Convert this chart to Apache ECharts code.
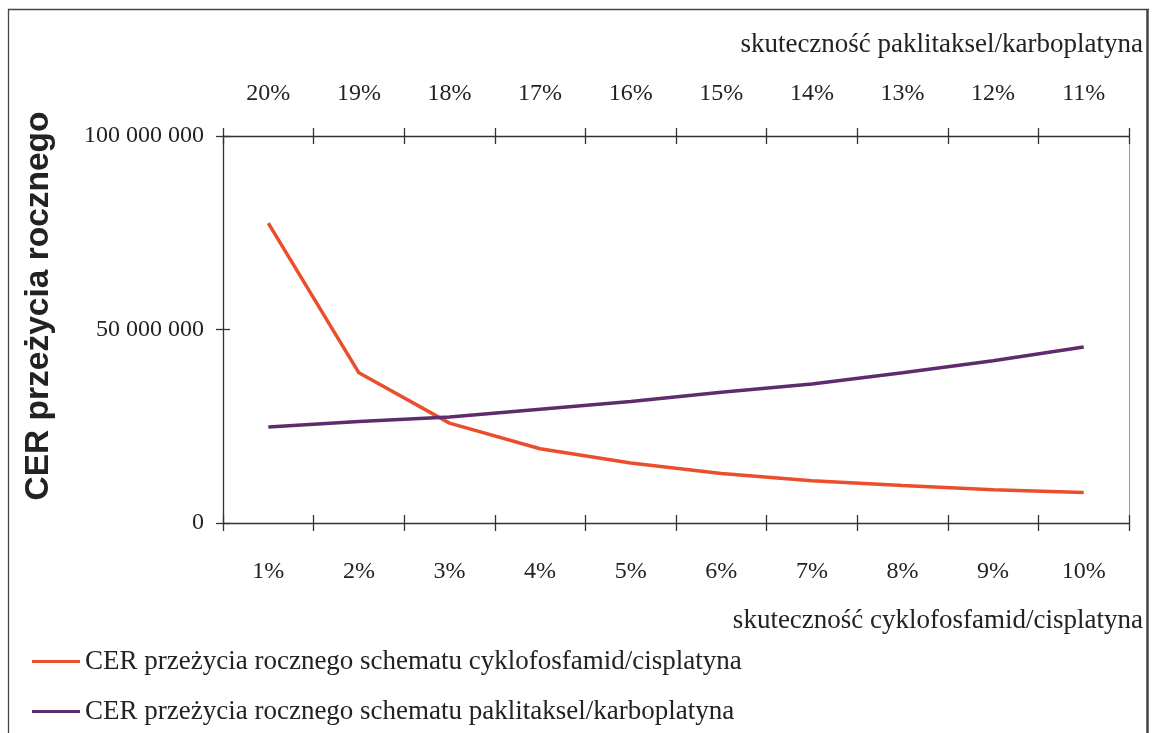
<!DOCTYPE html>
<html>
<head>
<meta charset="utf-8">
<script src="https://cdn.jsdelivr.net/npm/echarts@6/dist/echarts.min.js"></script>
<style>
html,body{margin:0;padding:0;background:#fff;}
#c{width:1158px;height:733px;}
</style>
</head>
<body>
<div id="c"></div>
<script>
const bottomLabels = ['1%','2%','3%','4%','5%','6%','7%','8%','9%','10%'];
const topLabels = ['20%','19%','18%','17%','16%','15%','14%','13%','12%','11%'];
const cyklofosfamid = [77500000, 38800000, 25800000, 19200000, 15500000, 12800000, 10900000, 9700000, 8600000, 7900000];
const paklitaksel = [24800000, 26200000, 27400000, 29400000, 31400000, 33800000, 35900000, 38800000, 41900000, 45500000];
const seriesNames = ['CER przeżycia rocznego schematu cyklofosfamid/cisplatyna','CER przeżycia rocznego schematu paklitaksel/karboplatyna'];
const yTitle = 'CER przeżycia rocznego';
const topTitle = 'skuteczność paklitaksel/karboplatyna';
const bottomTitle = 'skuteczność cyklofosfamid/cisplatyna';

const serif = 'Liberation Serif';
const axisColor = '#333';
const lineSt = {color: axisColor, width: 1.3};
const labelSt = {fontFamily: serif, fontSize: 24, color: '#222'};

function catAxis(data, pos, inside, margin) {
  return {
    type: 'category', data: data, position: pos, boundaryGap: true, offset: 0,
    axisLine: {show: !inside, onZero: false, lineStyle: lineSt},
    axisTick: {show: true, inside: inside, length: 8, interval: 0, alignWithLabel: false, lineStyle: lineSt},
    axisLabel: inside ? {show: false} : Object.assign({show: true, interval: 0, margin: margin}, labelSt),
    splitLine: {show: false}
  };
}
function valAxis(pos, inside, showLabel) {
  return {
    type: 'value', min: 0, max: 100000000, interval: 50000000, position: pos, offset: 0,
    axisLine: {show: !inside, onZero: false, lineStyle: lineSt},
    axisTick: {show: true, inside: inside, length: 7, lineStyle: lineSt},
    axisLabel: showLabel ? Object.assign({show: true, margin: 19, formatter: v => String(v).replace(/\B(?=(\d{3})+(?!\d))/g, ' ')}, labelSt) : {show: false},
    splitLine: {show: false}
  };
}

const chart = echarts.init(document.getElementById('c'));
chart.setOption({
  animation: false,
  backgroundColor: '#fff',
  grid: {left: 223, right: 29, top: 136, bottom: 210, containLabel: false},
  xAxis: [
    catAxis(bottomLabels, 'bottom', false, 37),
    catAxis(topLabels, 'top', false, 30),
    catAxis(bottomLabels, 'bottom', true, 0),
    catAxis(topLabels, 'top', true, 0)
  ],
  yAxis: [
    valAxis('left', false, true),
    valAxis('left', true, false),
    {type: 'value', min: 0, max: 100000000, interval: 50000000, position: 'right', offset: 0,
     axisLine: {show: true, onZero: false, lineStyle: {color: '#999', width: 1}}, axisTick: {show: false},
     axisLabel: {show: false}, splitLine: {show: false}}
  ],
  legend: {
    orient: 'vertical', left: 32, top: 648, itemGap: 23, padding: 0,
    itemWidth: 48, itemHeight: 3, icon: 'rect',
    textStyle: {fontFamily: serif, fontSize: 27, color: '#222'},
    data: seriesNames
  },
  series: [
    {name: seriesNames[0], type: 'line', data: cyklofosfamid, symbol: 'none',
     itemStyle: {color: '#EA4E2C'}, lineStyle: {color: '#EA4E2C', width: 3.5}},
    {name: seriesNames[1], type: 'line', data: paklitaksel, symbol: 'none',
     itemStyle: {color: '#5F2C6B'}, lineStyle: {color: '#5F2C6B', width: 3.5}}
  ],
  graphic: [
    {type: 'line', shape: {x1: 8.5, y1: 9, x2: 8.5, y2: 740}, style: {stroke: '#444', lineWidth: 1.3}, silent: true},
    {type: 'line', shape: {x1: 8, y1: 9.5, x2: 1149, y2: 9.5}, style: {stroke: '#444', lineWidth: 1.3}, silent: true},
    {type: 'line', shape: {x1: 1147.5, y1: 9, x2: 1147.5, y2: 740}, style: {stroke: '#444', lineWidth: 2.5}, silent: true},
    {type: 'text', x: 1143, y: 45, style: {text: topTitle, align: 'right', verticalAlign: 'middle', fontFamily: serif, fontSize: 27, fill: '#222'}},
    {type: 'text', x: 1143, y: 621, style: {text: bottomTitle, align: 'right', verticalAlign: 'middle', fontFamily: serif, fontSize: 27, fill: '#222'}},
    {type: 'text', x: 39, y: 306, rotation: Math.PI / 2, style: {text: yTitle, align: 'center', verticalAlign: 'middle', fontFamily: 'Liberation Sans', fontWeight: 'bold', fontSize: 33.5, fill: '#222'}}
  ]
});
</script>
</body>
</html>
